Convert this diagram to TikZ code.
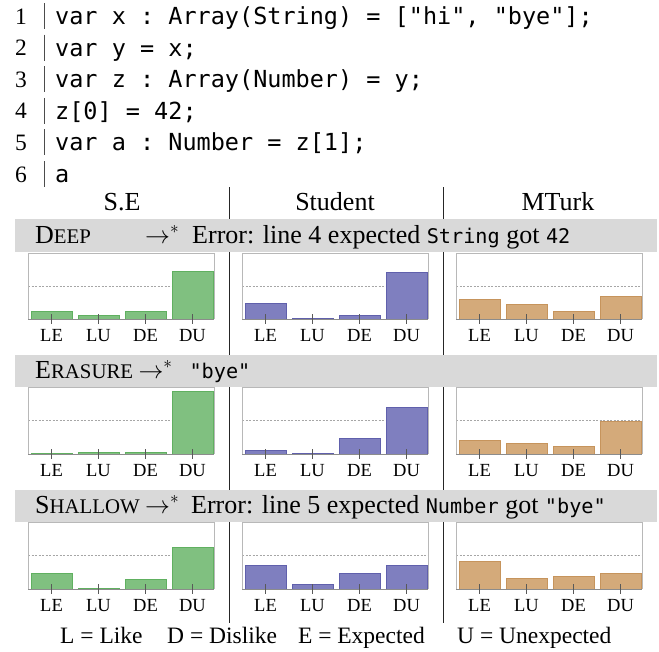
\documentclass[tikz,border=0pt]{standalone}
\usepackage{fontspec}
\setmainfont{Liberation Serif}
\setmonofont{DejaVu Sans Mono}
\definecolor{segreen}{RGB}{128,192,128}
\definecolor{segreenD}{RGB}{96,176,96}
\definecolor{stblue}{RGB}{127,127,191}
\definecolor{stblueD}{RGB}{96,96,172}
\definecolor{mttan}{RGB}{212,170,122}
\definecolor{mttanD}{RGB}{198,148,92}
\definecolor{bandgray}{RGB}{217,217,217}
\newcommand\bmono{\fontsize{20.2}{24}\ttfamily}
\newcommand\fsc[2]{#1{\fontsize{20.8}{24}\selectfont #2}}
\newcommand\redarrow{$\rightarrow^{*}$}
\tikzset{
  codetxt/.style={anchor=base west, inner sep=0pt, font=\fontsize{23.5}{28}\ttfamily},
  numtxt/.style={anchor=base, inner sep=0pt, font=\fontsize{23.5}{28}\selectfont},
  headtxt/.style={anchor=base, inner sep=0pt, font=\fontsize{26}{31}\selectfont},
  bandtxt/.style={anchor=base west, inner sep=0pt, font=\fontsize{26}{31}\selectfont},
  band/.style={fill=bandgray, draw=none},
  ticklbl/.style={anchor=base, inner sep=0pt, font=\fontsize{18.5}{22}\selectfont},
  legtxt/.style={anchor=base west, inner sep=0pt, font=\fontsize{23.5}{28}\selectfont},
  chframe/.style={draw=black!28, line width=0.8pt},
  axisline/.style={draw=black!45, line width=0.9pt},
  midline/.style={draw=black!35, dash pattern=on 2pt off 1.5pt, line width=0.6pt},
  tickmark/.style={draw=black!65, line width=0.8pt},
  divider/.style={draw=black!85, line width=1pt},
  codebar/.style={draw=black!70, line width=0.8pt},
}
\newcommand\mychart[7]{%
  \pgfmathsetmacro\chR{#2+186}%
  \pgfmathsetmacro\chM{(#3+#4)/2}%
  \draw[midline] (#2,\chM) -- (\chR,\chM);
  \foreach \h [count=\i from 0] in {#7} {
    \pgfmathsetmacro\chXa{#2+3+47*\i}
    \pgfmathsetmacro\chXb{\chXa+41}
    \pgfmathsetmacro\chYt{#4-\h}
    \path[fill=#5, draw=#6, line width=0.9pt] (\chXa,#4) rectangle (\chXb,\chYt);
  }
  \draw[chframe] (#2,#4) -- (#2,#3) -- (\chR,#3) -- (\chR,#4);
  \draw[axisline] (#2,#4) -- (\chR,#4);
  \foreach \t [count=\i from 0] in {LE,LU,DE,DU} {
    \pgfmathsetmacro\chXc{#2+23.5+47*\i}
    \draw[tickmark] (\chXc,#4-5) -- (\chXc,#4+5);
    \node[ticklbl] (#1-\t) at (\chXc,#4+22) {\t};
  }
}
\begin{document}
\begin{tikzpicture}[x=1pt,y=-1pt]
\useasboundingbox (0,0) rectangle (659,651);
% code listing
\foreach \k/\code in {0/{var x : Array(String) = ["hi", "bye"];},
                      1/{var y = x;},
                      2/{var z : Array(Number) = y;},
                      3/{z[0] = 42;},
                      4/{var a : Number = z[1];},
                      5/{a}} {
  \pgfmathsetmacro\cy{16+31.6*\k}
  \pgfmathtruncatemacro\ln{\k+1}
  \node[numtxt] (num\ln) at (21,\cy+8) {\ln};
  \draw[codebar] (44,\cy-13) -- (44,\cy+13);
  \node[codetxt] (code\ln) at (55,\cy+8.5) {\code};
}
% column headers
\node[headtxt] (hSE) at (122,210) {S.E};
\node[headtxt] (hST) at (335,210) {Student};
\node[headtxt] (hMT) at (558,210) {MTurk};
% dividers
\coordinate (d1t) at (229,187); \coordinate (d1b) at (229,623);
\coordinate (d2t) at (443,187); \coordinate (d2b) at (443,623);
\draw[divider] (d1t) -- (d1b);
\draw[divider] (d2t) -- (d2b);
% bands
\fill[band] (15,219) rectangle (657,252);
\fill[band] (15,355) rectangle (657,387);
\fill[band] (15,490) rectangle (657,522);
\node[bandtxt] (deep) at (35,243) {\fsc{D}{EEP}};
\node[bandtxt] (deepres) at (145,243) {\redarrow\hspace{13pt}Error: line 4 expected {\bmono String} got {\bmono 42}};
\node[bandtxt] (eras) at (35,378) {\fsc{E}{RASURE}};
\node[bandtxt] (erasres) at ([xshift=5pt]eras.base east) {\redarrow\hspace{17pt}{\bmono "bye"}};
\node[bandtxt] (shal) at (35,513) {\fsc{S}{HALLOW}};
\node[bandtxt] (shalres) at ([xshift=5pt]shal.base east) {\redarrow\hspace{12pt}Error: line 5 expected {\bmono Number} got {\bmono "bye"}};
% charts row 1
\mychart{r1se}{28}{253}{319}{segreen}{segreenD}{8,4,8,48}
\mychart{r1st}{242}{253}{319}{stblue}{stblueD}{16,0.5,4,47}
\mychart{r1mt}{456}{253}{319}{mttan}{mttanD}{20,15,8,23}
% charts row 2
\mychart{r2se}{28}{387}{454}{segreen}{segreenD}{0.5,2,2,63}
\mychart{r2st}{242}{387}{454}{stblue}{stblueD}{4,0.5,16,47}
\mychart{r2mt}{456}{387}{454}{mttan}{mttanD}{14,11,8,33}
% charts row 3
\mychart{r3se}{28}{522}{589}{segreen}{segreenD}{16,0.5,10,42}
\mychart{r3st}{242}{522}{589}{stblue}{stblueD}{24,5,16,24}
\mychart{r3mt}{456}{522}{589}{mttan}{mttanD}{28,11,13,16}
% legend
\node[legtxt] (legL) at (60,643) {L = Like};
\node[legtxt] (legD) at (167,643) {D = Dislike};
\node[legtxt, anchor=base east] (legE) at (425,643) {E = Expected};
\node[legtxt] (legU) at (457,643) {U = Unexpected};
\end{tikzpicture}
\end{document}
